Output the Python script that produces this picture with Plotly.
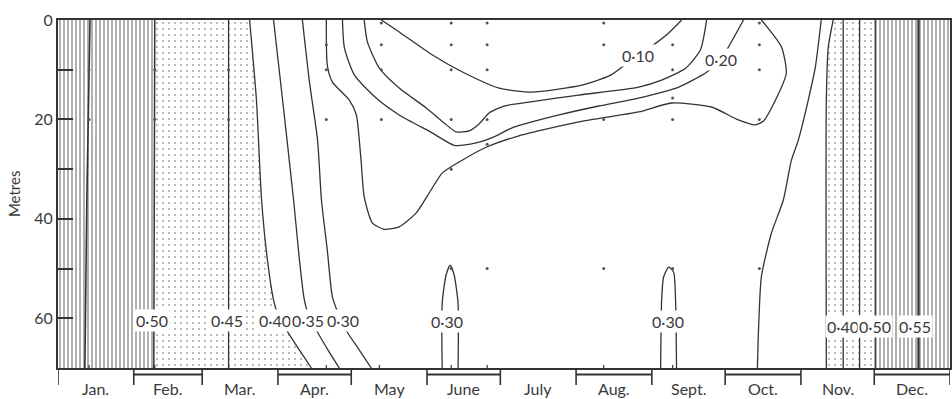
import plotly.graph_objects as go

# ---------------- data ----------------
months = ["Jan.", "Feb.", "Mar.", "Apr.", "May", "June", "July", "Aug.", "Sept.", "Oct.", "Nov.", "Dec."]
month_days = [31, 28, 31, 30, 31, 30, 31, 31, 30, 31, 30, 31]
bracket_months = ["Feb.", "Apr.", "June", "Aug.", "Oct.", "Dec."]
depth_ticks = [0, 10, 20, 30, 40, 50, 60]
depth_ticktext = ["0", "", "20", "", "40", "", "60"]

# isopleths (x = day of year, y = depth in metres)
c055_left_day = [13.1, 11.8, 11.0]
c055_left_m = [0, 36, 70]
c050_left_day = [39.6, 39.4, 39.2]
c050_left_m = [0, 35, 70]
c045_left_day = [69.8, 69.8, 69.8]
c045_left_m = [0, 35, 70]
c040_left_day = [78.4, 81.2, 83.3, 85.7, 88.2, 90.5, 93.5, 98.8, 103.7]
c040_left_m = [0, 16.1, 36.2, 48.3, 56.3, 60.0, 62.4, 66.4, 70]
c035_left_day = [88.2, 91.9, 96.4, 98.8, 100.8, 103.0, 106.2, 110.5, 115.1]
c035_left_m = [0, 16.1, 36.2, 48.3, 56.3, 60.0, 62.8, 66.4, 70]
c030_left_day = [100.0, 102.9, 106.2, 107.8, 110.2, 112.3, 115.5, 118.4, 123.3, 128.2]
c030_left_m = [0, 12.5, 24.1, 36.2, 46.3, 55.7, 60.0, 62.8, 66.4, 70]
c025_day = [109.8, 110.2, 112.3, 119.2, 122.1, 123.3, 124.1, 125.3, 128.6, 133.5, 139.6, 146.6,
            151.9, 157.2, 165.4, 175.2, 188.6, 213.1, 237.6, 251.1, 267.4, 278.4, 285.4, 288.7,
            293.6, 298.0, 296.0, 287.8]
c025_m = [0, 9.1, 12.5, 16.1, 19.1, 24.2, 28.8, 35.6, 40.8, 42.1, 41.6, 38.8,
          34.8, 30.8, 28.2, 25.6, 23.3, 20.5, 18.5, 16.7, 17.5, 20.1, 21.1, 20.3,
          16.1, 10.7, 5.4, 0]
c020_day = [116.4, 117.2, 121.3, 130.2, 139.6, 153.1, 162.1, 171.1, 178.4, 185.8, 205.0,
            221.3, 237.6, 254.0, 265.4, 271.1, 274.4, 280.5]
c020_m = [0, 5.6, 11.1, 15.7, 19.1, 22.7, 25.2, 24.7, 23.5, 21.7, 19.1,
          17.3, 15.7, 13.5, 10.5, 8.0, 5.4, 0]
c015_day = [125.3, 126.6, 131.5, 139.6, 150.7, 158.0, 162.9, 168.2, 172.3, 176.4, 182.5,
            192.7, 213.1, 237.6, 247.0, 256.8, 262.9, 265.4]
c015_m = [0, 4.4, 9.7, 13.7, 17.7, 20.7, 22.5, 22.3, 20.9, 18.7, 17.3,
          16.5, 15.1, 13.5, 12.1, 9.7, 6.0, 0]
c010_day = [132.3, 139.6, 153.1, 164.1, 180.5, 193.9, 214.3, 226.2, 236.8, 243.7, 249.9, 255.2]
c010_m = [0, 2.4, 7.0, 10.1, 13.7, 14.5, 13.1, 11.1, 7.2, 5.0, 2.6, 0]
c030_right_day = [312.3, 309.9, 307.0, 302.9, 300.1, 296.8, 291.9, 287.8, 286.6, 286.2]
c030_right_m = [0, 9.5, 16.1, 24.2, 28.2, 36.2, 42.9, 51.7, 63.0, 70]
c030_june_day = [157.2, 157.2, 158.8, 160.5, 162.1, 163.7, 163.7]
c030_june_m = [70, 57, 51.3, 49.3, 51.3, 57, 70]
c030_sept_day = [246.6, 247.0, 247.8, 249.9, 251.9, 252.7, 253.1]
c030_sept_m = [70, 56.4, 51.7, 49.7, 50.7, 56.4, 70]
c035_right_day = [317.2, 315.2, 314.4, 314.4]
c035_right_m = [0, 5.4, 16.1, 70]
c040_right_day = [321.3, 321.3]
c040_right_m = [0, 70]
c045_right_day = [328.0, 328.0]
c045_right_m = [0, 70]
c050_right_day = [334.4, 334.4]
c050_right_m = [0, 70]
c055_right_day = [352.1, 352.1]
c055_right_m = [0, 70]

label_text = ["0·50", "0·45", "0·40", "0·35", "0·30", "0·30", "0·30", "0·40", "0·50", "0·55", "0·10", "0·20"]
label_day = [38.6, 69.2, 88.6, 102.3, 116.8, 159.0, 249.5, 321.1, 334.2, 350.7, 237.2, 271.1]
label_m = [60.4, 60.4, 60.4, 60.4, 60.4, 60.6, 60.6, 61.6, 61.6, 61.6, 7.2, 8.0]

station_day = [132.3, 160.9, 175.6, 223.3, 287.0,
               109.8, 132.3, 160.9, 175.6, 223.3, 251.5, 287.0,
               109.8, 132.3, 160.9, 175.6, 251.5, 287.0,
               251.5,
               109.8, 132.3, 160.9, 175.6, 223.3, 251.5, 287.0,
               175.6, 160.9,
               160.9, 175.6, 223.3, 251.5, 287.0,
               12.7, 12.7, 39.6, 39.6, 69.8, 69.8]
station_m = [0.6, 0.6, 0.6, 0.6, 0.6,
             5, 5, 5, 5, 5, 5, 5,
             10, 10, 10, 10, 10, 10,
             15.7,
             20, 20, 20, 20, 20, 20, 20,
             25, 30,
             50, 50, 50, 50, 50,
             10, 20, 10, 20, 10, 20]
bottom_tick_day = [12.7, 39.6, 69.8, 109.8, 131.5, 160.9, 175.6, 223.3, 251.5]

# ---------------- figure ----------------
LINE = "#333333"
TEXT = "#3a3a3a"
FONT = "Lato"

fig = go.Figure()

hatch = dict(shape="|", fgcolor="#3a3a3a", bgcolor="white", size=4, solidity=0.4)
dots = dict(shape=".", fgcolor="#555555", bgcolor="white", size=6, solidity=0.1)

def area(xs, ys, pattern):
    fig.add_trace(go.Scatter(x=xs, y=ys, mode="lines", fill="toself", fillcolor="white",
                             fillpattern=pattern, line=dict(width=0), hoverinfo="skip",
                             showlegend=False))

area([0] + c050_left_day + [0], [0] + c050_left_m + [70], hatch)
area(c050_left_day + c040_left_day[::-1], c050_left_m + c040_left_m[::-1], dots)
area(c035_right_day + c050_right_day[::-1], c035_right_m + c050_right_m[::-1], dots)
area(c050_right_day + [365, 365], c050_right_m + [70, 0], hatch)

def iso(xs, ys, smooth=True, width=1.3):
    fig.add_trace(go.Scatter(x=xs, y=ys, mode="lines",
                             line=dict(color=LINE, width=width,
                                       shape="spline" if smooth else "linear",
                                       smoothing=0.6),
                             hoverinfo="skip", showlegend=False))

iso(c055_left_day, c055_left_m, width=1.6)
iso(c050_left_day, c050_left_m, width=1.5)
iso(c045_left_day, c045_left_m)
iso(c040_left_day, c040_left_m)
iso(c035_left_day, c035_left_m)
iso(c030_left_day, c030_left_m)
iso(c025_day, c025_m)
iso(c020_day, c020_m)
iso(c015_day, c015_m)
iso(c010_day, c010_m)
iso(c030_right_day, c030_right_m)
iso(c030_june_day, c030_june_m)
iso(c030_sept_day, c030_sept_m)
iso(c035_right_day, c035_right_m)
iso(c040_right_day, c040_right_m)
iso(c045_right_day, c045_right_m)
iso(c050_right_day, c050_right_m)
iso(c055_right_day, c055_right_m, width=2.2)

fig.add_trace(go.Scatter(x=station_day, y=station_m, mode="markers",
                         marker=dict(size=3, color="#555555"), hoverinfo="skip",
                         showlegend=False))

for t, d, m in zip(label_text, label_day, label_m):
    fig.add_annotation(x=d, y=m, text=t, showarrow=False, xanchor="center", yanchor="middle",
                       font=dict(family=FONT, size=16, color=TEXT), bgcolor="white", borderpad=1)

# month axis
H = 348.0
cum = [0]
for n in month_days:
    cum.append(cum[-1] + n)
for i, name in enumerate(months):
    mid = (cum[i] + cum[i + 1]) / 2
    fig.add_annotation(x=mid, y=-20 / H, xref="x", yref="paper", text=name, showarrow=False,
                       xanchor="center", yanchor="middle",
                       font=dict(family=FONT, size=16, color=TEXT))
    if name in bracket_months:
        fig.add_shape(type="line", xref="x", yref="paper", x0=cum[i], x1=cum[i + 1],
                      y0=-6.5 / H, y1=-6.5 / H, line=dict(color=LINE, width=2))
for c in cum:
    fig.add_shape(type="line", xref="x", yref="paper", x0=c, x1=c, y0=0, y1=-17 / H,
                  line=dict(color=LINE, width=1.6))
for d in bottom_tick_day:
    fig.add_shape(type="line", xref="x", yref="paper", x0=d, x1=d, y0=0, y1=3 / H,
                  line=dict(color=LINE, width=1.2))

fig.add_annotation(x=-44 / 894, y=0.5, xref="paper", yref="paper", text="Metres",
                   textangle=-90, showarrow=False, xanchor="center", yanchor="middle",
                   font=dict(family=FONT, size=15, color=TEXT))

fig.update_layout(
    width=952, height=399,
    margin=dict(l=58, r=0, t=20, b=31),
    paper_bgcolor="white", plot_bgcolor="white",
    showlegend=False,
    xaxis=dict(range=[0, 365], showticklabels=False, ticks="", showgrid=False, zeroline=False,
               showline=True, mirror=True, linecolor=LINE, linewidth=1.8),
    yaxis=dict(range=[70, 0], tickmode="array", tickvals=depth_ticks, ticktext=depth_ticktext,
               ticks="inside", ticklen=15, tickwidth=1.5, tickcolor=LINE,
               tickfont=dict(family=FONT, size=16, color=TEXT),
               showgrid=False, zeroline=False, showline=True, mirror=True,
               linecolor=LINE, linewidth=1.8),
)

fig.write_html("out.html", config={"displayModeBar": False},
               post_script="document.body.style.margin='0';")
